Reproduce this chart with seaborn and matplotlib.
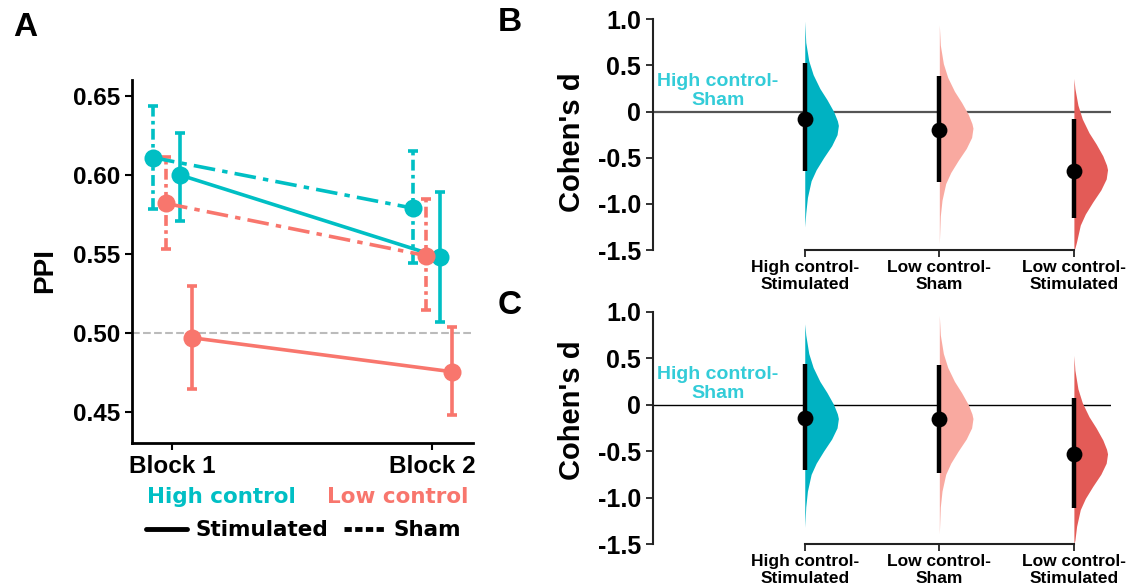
import numpy as np
import pandas as pd
import matplotlib.pyplot as plt
import seaborn as sns
from matplotlib.lines import Line2D

sns.set_style("ticks")
plt.rcParams['font.family'] = ['Liberation Sans', 'DejaVu Sans']
plt.rcParams['text.color'] = 'black'
plt.rcParams['xtick.color'] = 'black'
plt.rcParams['ytick.color'] = 'black'
plt.rcParams['axes.labelcolor'] = 'black'

# ---- panel A data ----
blocks = ['Block 1', 'Block 2']
groups = ['High control', 'Low control']
conditions = ['Stimulated', 'Sham']

ppi_high_sham = [0.611, 0.579]
ppi_low_sham = [0.582, 0.549]
ppi_high_stim = [0.600, 0.548]
ppi_low_stim = [0.497, 0.4755]

lo_high_sham = [0.5785, 0.5445]
lo_low_sham = [0.553, 0.5146]
lo_high_stim = [0.571, 0.5072]
lo_low_stim = [0.4644, 0.448]

hi_high_sham = [0.6437, 0.615]
hi_low_sham = [0.6116, 0.5846]
hi_high_stim = [0.6268, 0.589]
hi_low_stim = [0.5297, 0.5036]

# ---- panels B / C data ----
contrasts = ['High control-\nStimulated', 'Low control-\nSham', 'Low control-\nStimulated']
d_B = [-0.079, -0.199, -0.639]
ci_lo_B = [-0.643, -0.759, -1.156]
ci_hi_B = [0.524, 0.387, -0.083]
d_C = [-0.140, -0.154, -0.528]
ci_lo_C = [-0.700, -0.736, -1.110]
ci_hi_C = [0.434, 0.427, 0.072]

# bootstrap density outlines (y level, relative width)
dens_w = [0, 0.03, 0.12, 0.25, 0.45, 0.66, 0.86, 0.97, 1.0, 0.96, 0.8, 0.56, 0.34, 0.19, 0.08, 0.03, 0]
dens_y_B = [
    [0.98, 0.75, 0.55, 0.40, 0.25, 0.13, 0.0, -0.10, -0.15, -0.25, -0.37, -0.50, -0.63, -0.75, -0.93, -1.10, -1.25],
    [0.94, 0.72, 0.52, 0.37, 0.22, 0.10, -0.03, -0.13, -0.18, -0.28, -0.40, -0.53, -0.66, -0.78, -0.96, -1.13, -1.43],
    [0.36, 0.25, 0.07, -0.08, -0.23, -0.35, -0.48, -0.58, -0.63, -0.73, -0.85, -0.98, -1.11, -1.23, -1.41, -1.48, -1.50],
]
dens_y_C = [
    [0.87, 0.75, 0.55, 0.40, 0.25, 0.13, 0.0, -0.10, -0.15, -0.25, -0.37, -0.50, -0.63, -0.75, -0.93, -1.10, -1.32],
    [0.96, 0.75, 0.55, 0.40, 0.25, 0.13, 0.0, -0.10, -0.15, -0.25, -0.37, -0.50, -0.63, -0.75, -0.93, -1.10, -1.39],
    [0.53, 0.37, 0.17, 0.02, -0.13, -0.25, -0.38, -0.48, -0.53, -0.63, -0.75, -0.88, -1.01, -1.13, -1.31, -1.46, -1.50],
]

TEAL = '#00BFC4'
SALMON = '#F8766D'
pal = {'High control': TEAL, 'Low control': SALMON}
viol_cols = ['#00B2C2', '#F9A9A0', '#E35B57']
sham_dash = (6, 2, 1.5, 2)
offsets = {('High control', 'Sham'): -0.073, ('Low control', 'Sham'): -0.023,
           ('High control', 'Stimulated'): 0.031, ('Low control', 'Stimulated'): 0.077}

rows = []
series = {('High control', 'Sham'): (ppi_high_sham, lo_high_sham, hi_high_sham),
          ('Low control', 'Sham'): (ppi_low_sham, lo_low_sham, hi_low_sham),
          ('High control', 'Stimulated'): (ppi_high_stim, lo_high_stim, hi_high_stim),
          ('Low control', 'Stimulated'): (ppi_low_stim, lo_low_stim, hi_low_stim)}
for (g, c), (m, lo, hi) in series.items():
    for i, b in enumerate(blocks):
        rows.append(dict(group=g, condition=c, block=b, x=i + offsets[(g, c)],
                         ppi=m[i], lo=lo[i], hi=hi[i]))
df = pd.DataFrame(rows)

fig = plt.figure(figsize=(11.33, 5.87), dpi=100)
axA = fig.add_axes([0.1165, 0.2453, 0.301, 0.6184])
axB = fig.add_axes([0.5763, 0.5741, 0.4042, 0.3930])
axC = fig.add_axes([0.5763, 0.0732, 0.4042, 0.3958])

# ---- panel A ----
axA.axhline(0.5, color='#BBBBBB', ls='--', lw=1.5, zorder=0)
for (g, c), sub in df.groupby(['group', 'condition']):
    eb = axA.errorbar(sub['x'], sub['ppi'], yerr=[sub['ppi'] - sub['lo'], sub['hi'] - sub['ppi']],
                      fmt='none', ecolor=pal[g], elinewidth=2.6, capsize=3.8, capthick=2.6)
    if c == 'Sham':
        eb[2][0].set_linestyle((0, (3, 1.2, 1, 1.2)))
sns.lineplot(data=df, x='x', y='ppi', hue='group', style='condition', palette=pal,
             dashes={'Stimulated': '', 'Sham': sham_dash},
             markers={'Stimulated': 'o', 'Sham': 'o'}, markersize=13, markeredgewidth=0,
             lw=2.6, legend=False, ax=axA)
axA.set_xlim(-0.154, 1.158)
axA.set_ylim(0.4304, 0.6601)
axA.set_xticks([0, 1], blocks)
axA.set_yticks([0.45, 0.50, 0.55, 0.60, 0.65], ['0.45', '0.50', '0.55', '0.60', '0.65'])
axA.set_xlabel('')
axA.set_ylabel('')
for lab in axA.get_xticklabels() + axA.get_yticklabels():
    lab.set_fontsize(17.5)
    lab.set_fontweight('bold')
axA.tick_params(length=5, width=1.5, color='black')
sns.despine(ax=axA)
for s in ['left', 'bottom']:
    axA.spines[s].set_linewidth(2)
    axA.spines[s].set_color('black')

fig.text(0.0397, 0.540, 'PPI', rotation=90, ha='center', va='center', fontsize=20, fontweight='bold')
fig.text(0.195, 0.153, 'High control', color=TEAL, ha='center', va='center',
         fontsize=15.5, fontweight='bold', family='DejaVu Sans')
fig.text(0.351, 0.153, 'Low control', color=SALMON, ha='center', va='center',
         fontsize=15.5, fontweight='bold', family='DejaVu Sans')
handles = [Line2D([], [], color='black', lw=3.5),
           Line2D([], [], color='black', lw=3.5, ls=(0, (1.5, 0.7)))]
fig.legend(handles, conditions, loc='center', bbox_to_anchor=(0.268, 0.097), ncol=2,
           frameon=False, handlelength=1.9, handletextpad=0.4, columnspacing=0.7,
           prop=dict(family='DejaVu Sans', weight='bold', size=15.5))

# ---- panels B and C ----
def contrast_panel(ax, d, lo, hi, dens_y, zero_col, zero_lw):
    ax.axhline(0, color=zero_col, lw=zero_lw, zorder=1)
    for i, ys in enumerate(dens_y):
        ax.fill_betweenx(ys, i, [i + 0.25 * w for w in dens_w], color=viol_cols[i], lw=0, zorder=2)
    ax.vlines(range(len(d)), lo, hi, color='black', lw=3.2, zorder=3)
    sns.scatterplot(x=range(len(d)), y=d, color='black', s=130, linewidth=0, zorder=4, ax=ax)
    ax.set_xlim(-1.128, 2.275)
    ax.set_ylim(-1.5, 1.0)
    ax.set_xticks(range(len(contrasts)), contrasts)
    ax.set_yticks([1.0, 0.5, 0, -0.5, -1.0, -1.5], ['1.0', '0.5', '0', '-0.5', '-1.0', '-1.5'])
    for lab in ax.get_yticklabels():
        lab.set_fontsize(18)
        lab.set_fontweight('bold')
    for lab in ax.get_xticklabels():
        lab.set_fontsize(12.5)
        lab.set_fontweight('bold')
        lab.set_linespacing(1.1)
    ax.tick_params(length=5, width=1.3, color='#222222')
    ax.tick_params(axis='x', pad=2.5)
    sns.despine(ax=ax)
    ax.spines['bottom'].set_bounds(0, 2)
    for s in ['left', 'bottom']:
        ax.spines[s].set_linewidth(1.5)
        ax.spines[s].set_color('#222222')
    ax.text(-0.645, 0.22, 'High control-\nSham', color='#33CCD8', ha='center', va='center',
            fontsize=14, fontweight='bold', linespacing=1.15)

contrast_panel(axB, d_B, ci_lo_B, ci_hi_B, dens_y_B, '#555555', 1.6)
contrast_panel(axC, d_C, ci_lo_C, ci_hi_C, dens_y_C, 'black', 1.0)

fig.text(0.505, 0.758, "Cohen's d", rotation=90, ha='center', va='center', fontsize=21, fontweight='bold')
fig.text(0.505, 0.3015, "Cohen's d", rotation=90, ha='center', va='center', fontsize=21, fontweight='bold')

fig.text(0.022, 0.954, 'A', ha='center', va='center', fontsize=24, fontweight='bold')
fig.text(0.450, 0.961, 'B', ha='center', va='center', fontsize=24, fontweight='bold')
fig.text(0.450, 0.480, 'C', ha='center', va='center', fontsize=24, fontweight='bold')

fig.savefig('out.png', dpi=100)
